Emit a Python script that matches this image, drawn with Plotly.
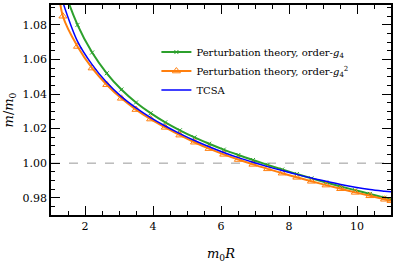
import plotly.graph_objects as go

# m0R grid
x_pts = [1.20, 1.35, 1.78, 2.21, 2.64, 3.07, 3.50, 3.93, 4.36, 4.79, 5.22, 5.65,
         6.08, 6.51, 6.94, 7.37, 7.80, 8.23, 8.66, 9.09, 9.52, 9.95, 10.38, 10.81, 11.0]

# Perturbation theory, order g4 (green)
y_g4 = [1.1150, 1.1030, 1.0800, 1.0640, 1.0520, 1.0426, 1.0351, 1.0289, 1.0236, 1.0190,
        1.0149, 1.0112, 1.0078, 1.0047, 1.0018, 0.9990, 0.9963, 0.9937, 0.9912, 0.9888,
        0.9865, 0.9843, 0.9822, 0.9800, 0.9790]

# Perturbation theory, order g4^2 (orange)
y_g4sq = [1.1050, 1.0850, 1.0675, 1.0550, 1.0454, 1.0375, 1.0310, 1.0255, 1.0207, 1.0162,
          1.0121, 1.0084, 1.0051, 1.0021, 0.9993, 0.9967, 0.9942, 0.9918, 0.9895, 0.9873,
          0.9852, 0.9831, 0.9811, 0.9791, 0.9783]

# TCSA (blue)
y_tcsa = [1.1020, 1.0930, 1.0705, 1.0570, 1.0466, 1.0385, 1.0320, 1.0264, 1.0215, 1.0171,
          1.0131, 1.0095, 1.0062, 1.0032, 1.0005, 0.9980, 0.9957, 0.9935, 0.9914, 0.9895,
          0.9877, 0.9861, 0.9848, 0.9838, 0.9834]

x_ticks = [2, 4, 6, 8, 10]
y_ticks = [0.98, 1.00, 1.02, 1.04, 1.06, 1.08]
y_ticklabels = ["0.98", "1.00", "1.02", "1.04", "1.06", "1.08"]

FONT = "DejaVu Serif"

fig = go.Figure()

fig.add_hline(y=1.0, line=dict(color="#999999", width=1, dash="dash"), layer="below")

fig.add_trace(go.Scatter(
    x=x_pts, y=y_g4, mode="lines+markers",
    line=dict(color="#2ca02c", width=2, shape="spline"),
    marker=dict(symbol="x-thin-open", size=4,
                line=dict(color="rgba(44,160,44,0.55)", width=1)),
    name="Perturbation theory, order-<i>g</i><sub>4</sub>",
))
fig.add_trace(go.Scatter(
    x=x_pts, y=y_g4sq, mode="lines+markers",
    line=dict(color="#ff7f0e", width=2, shape="spline"),
    marker=dict(symbol="triangle-up-open", size=7,
                line=dict(color="rgba(255,127,14,0.5)", width=1)),
    name="Perturbation theory, order-<i>g</i><sub>4</sub><sup>2</sup>",
))
fig.add_trace(go.Scatter(
    x=x_pts, y=y_tcsa, mode="lines",
    line=dict(color="#0000ff", width=1.5, shape="spline"),
    name="TCSA",
))

axis_common = dict(
    showgrid=False, zeroline=False, showline=True, linecolor="black", linewidth=1.5,
    mirror="allticks", ticks="inside", ticklen=9, tickwidth=1, tickcolor="black",
    tickfont=dict(family=FONT, size=11, color="black"), automargin=False,
)

fig.update_xaxes(
    range=[1, 11], tickvals=x_ticks,
    minor=dict(dtick=0.5, ticks="inside", ticklen=4, tickwidth=1, tickcolor="black"),
    title=dict(text="<i>m</i><sub>0</sub><i>R</i>", font=dict(family=FONT, size=13, color="black"),
               standoff=17),
    **axis_common,
)
fig.update_yaxes(
    range=[0.97, 1.0915], tickvals=y_ticks, ticktext=y_ticklabels,
    minor=dict(dtick=0.005, ticks="inside", ticklen=4, tickwidth=1, tickcolor="black"),
    title=dict(text="<i>m</i>/<i>m</i><sub>0</sub>", font=dict(family=FONT, size=13, color="black"),
               standoff=6),
    **axis_common,
)

fig.update_layout(
    width=399, height=264,
    margin=dict(l=51, r=8, t=5, b=49),
    plot_bgcolor="white", paper_bgcolor="white",
    showlegend=True,
    legend=dict(x=0.31, y=0.845, xanchor="left", yanchor="top",
                bgcolor="rgba(255,255,255,0)", borderwidth=0,
                font=dict(family=FONT, size=10, color="black"),
                itemwidth=30, tracegroupgap=0),
)

fig.write_html("out.html", config={"displayModeBar": False},
               post_script="document.body.style.margin='0px';")
